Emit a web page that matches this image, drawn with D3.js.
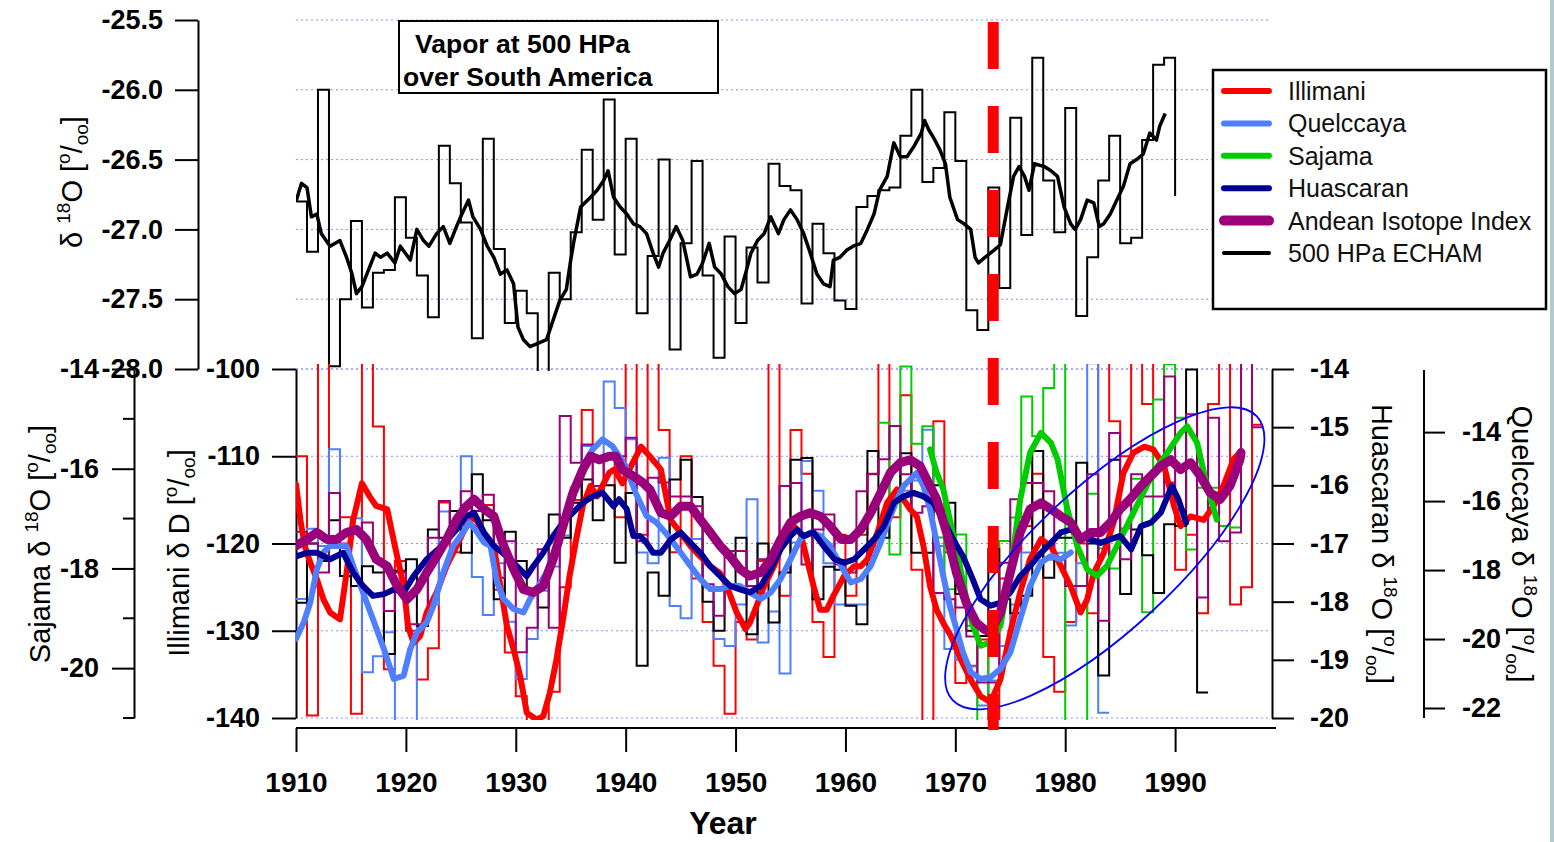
<!DOCTYPE html>
<html>
<head>
<meta charset="utf-8">
<script src="https://cdn.jsdelivr.net/npm/d3@7"></script>
<style>
body { margin: 0; background: #fff; }
svg { display: block; font-family: "Liberation Sans", Arial, sans-serif; }
</style>
</head>
<body>
<div id="chart"></div>
<script>
let width = 1554;
let height = 842;

// ---------- data ----------
let decades = [1910, 1920, 1930, 1940, 1950, 1960, 1970, 1980, 1990];
let topTicks = [-25.5, -26.0, -26.5, -27.0, -27.5, -28.0];
let illTicks = [-100, -110, -120, -130, -140];
let sajMajor = [-14, -16, -18, -20];
let sajMinor = [-15, -17, -19, -21];
let huaTicks = [-14, -15, -16, -17, -18, -19, -20];
let queTicks = [-14, -16, -18, -20, -22];
let markerYear = 1973.45;

let legendNames = ["Illimani", "Quelccaya", "Sajama", "Huascaran", "Andean Isotope Index", "500 HPa ECHAM"];

// ECHAM 500 hPa vapour d18O, annual values from 1910 (last value = end drop in 1990)
let echamStart = 1910;
let echamAnnual = [
  -26.80, -27.16, -26.00, -27.98, -27.50, -26.94, -27.56, -27.31, -27.29, -26.77,
  -27.06, -27.33, -27.63, -26.40, -26.67, -26.95, -27.78, -26.35, -27.14, -27.67,
  -27.44, -27.60, -28.10, -27.31, -27.50, -27.02, -26.43, -26.93, -26.07, -27.18,
  -26.35, -27.60, -27.19, -26.50, -27.86, -27.10, -26.51, -27.33, -27.92, -27.05,
  -27.67, -27.13, -27.38, -26.53, -26.69, -26.72, -27.53, -26.96, -27.17, -27.51,
  -27.57, -26.84, -26.76, -26.72, -26.70, -26.33, -26.00, -26.66, -26.56, -26.16,
  -26.51, -27.58, -27.72, -26.70, -27.42, -26.20, -27.04, -25.77, -26.65, -27.02,
  -26.13, -27.62, -27.20, -26.65, -26.33, -27.10, -27.06, -26.36, -25.82, -25.77,
  -26.76
];

// ECHAM running mean [year, d18O]
let echamSmooth = [
  [1910.0, -26.80], [1910.5, -26.67], [1911.0, -26.70], [1911.4, -26.91], [1911.9, -26.89],
  [1912.3, -27.03], [1913.1, -27.12], [1914.0, -27.08], [1914.6, -27.20], [1915.1, -27.32],
  [1915.5, -27.46], [1916.0, -27.41], [1916.6, -27.29], [1917.2, -27.17], [1917.7, -27.20],
  [1918.3, -27.17], [1919.0, -27.24], [1919.5, -27.12], [1920.4, -27.22], [1921.0, -27.00],
  [1921.6, -27.08], [1922.1, -27.12], [1922.8, -27.03], [1923.4, -26.98], [1924.0, -27.10],
  [1924.6, -26.98], [1925.1, -26.89], [1925.7, -26.79], [1926.1, -26.91], [1926.8, -27.00],
  [1927.4, -27.12], [1928.0, -27.20], [1928.6, -27.32], [1929.2, -27.29], [1929.8, -27.39],
  [1930.2, -27.70], [1930.7, -27.79], [1931.3, -27.84], [1931.9, -27.82], [1932.8, -27.79],
  [1933.4, -27.65], [1934.0, -27.51], [1934.6, -27.43], [1935.0, -27.22], [1935.3, -27.08],
  [1935.9, -26.84], [1936.8, -26.77], [1937.4, -26.72], [1938.0, -26.65], [1938.4, -26.58],
  [1938.9, -26.77], [1939.5, -26.84], [1940.1, -26.89], [1940.7, -26.96], [1941.3, -26.98],
  [1941.9, -27.03], [1942.5, -27.17], [1943.0, -27.27], [1943.4, -27.17], [1944.0, -27.08],
  [1944.6, -26.98], [1945.2, -27.08], [1945.9, -27.34], [1946.5, -27.32], [1947.0, -27.24],
  [1947.6, -27.10], [1948.1, -27.27], [1948.7, -27.32], [1949.3, -27.41], [1949.9, -27.46],
  [1950.5, -27.43], [1950.9, -27.32], [1951.4, -27.17], [1952.0, -27.08], [1952.6, -27.03],
  [1953.2, -26.91], [1953.9, -27.03], [1954.4, -26.93], [1955.0, -26.86], [1955.6, -26.93],
  [1956.2, -27.03], [1956.8, -27.17], [1957.4, -27.32], [1958.0, -27.39], [1958.6, -27.41],
  [1958.9, -27.22], [1959.5, -27.20], [1960.1, -27.15], [1960.7, -27.12], [1961.4, -27.10],
  [1962.0, -27.00], [1962.6, -26.89], [1963.1, -26.72], [1963.8, -26.62], [1964.4, -26.38],
  [1965.0, -26.48], [1965.6, -26.48], [1966.2, -26.41], [1966.9, -26.31], [1967.2, -26.22],
  [1967.6, -26.29], [1968.0, -26.34], [1968.6, -26.43], [1969.1, -26.53], [1969.5, -26.77],
  [1970.2, -26.93], [1970.8, -26.96], [1971.4, -27.00], [1971.8, -27.20], [1972.1, -27.24],
  [1972.7, -27.20], [1973.5, -27.15], [1974.1, -27.11], [1974.7, -26.86], [1975.3, -26.62],
  [1975.8, -26.55], [1976.3, -26.62], [1976.7, -26.72], [1977.2, -26.53], [1978.1, -26.55],
  [1978.7, -26.58], [1979.3, -26.62], [1979.9, -26.84], [1980.5, -26.96], [1980.9, -27.00],
  [1981.4, -26.93], [1982.0, -26.79], [1982.6, -26.81], [1983.1, -26.98], [1983.5, -26.96],
  [1984.1, -26.89], [1984.7, -26.79], [1985.3, -26.69], [1985.9, -26.53], [1986.5, -26.50],
  [1987.1, -26.46], [1987.7, -26.31], [1988.3, -26.36], [1988.6, -26.26], [1989.1, -26.17]
];

// Illimani dD, annual from 1910
let illStart = 1910;
let illAnnual = [
  -110, -139.7, -96, -120, -117, -139.5, -96, -106.6, -134.4, -122,
  -130, -135.6, -132, -115.3, -121, -116, -118, -115.6, -125.3, -132.5,
  -137.5, -141, -141, -137, -125, -115, -104.7, -113.4, -110, -117,
  -96, -119, -96, -107, -121, -110, -124, -129, -134, -139.5,
  -129, -131, -122, -96, -126, -107, -112, -129, -133, -119,
  -126, -119, -112, -96, -117, -103, -123, -141, -106, -121,
  -136, -134, -131, -141, -124, -121, -118, -112, -133, -137,
  -129, -120, -128, -96, -106, -110, -96, -104, -96, -113,
  -123, -119, -128, -104, -96, -127, -125, -106.4
];
let illSmooth = [
  [1910.0, -113.2], [1910.4, -117.3], [1910.8, -120.3], [1911.3, -122.2], [1911.9, -124.1],
  [1912.5, -126.4], [1913.1, -127.9], [1914.0, -128.7], [1914.6, -123.4], [1915.2, -117.3],
  [1916.0, -113.1], [1916.7, -114.6], [1917.3, -115.7], [1918.3, -116.1], [1919.0, -120.3],
  [1919.8, -124.9], [1920.2, -129.5], [1920.7, -131.4], [1921.3, -130.6], [1921.9, -127.9],
  [1922.8, -125.6], [1923.7, -122.6], [1924.6, -120.3], [1925.5, -118.0], [1926.2, -116.9],
  [1927.1, -118.8], [1928.0, -120.3], [1928.6, -124.9], [1929.2, -129.5], [1929.8, -132.1],
  [1930.4, -135.2], [1931.0, -139.4], [1931.9, -140.2], [1932.5, -139.8], [1933.1, -137.1],
  [1933.7, -133.3], [1934.3, -128.7], [1934.9, -123.7], [1935.5, -119.5], [1936.1, -115.7],
  [1936.8, -113.4], [1937.4, -114.6], [1938.0, -113.1], [1938.5, -111.9], [1939.0, -111.5],
  [1939.7, -113.1], [1940.5, -111.1], [1941.4, -108.9], [1942.2, -110.0], [1943.2, -111.5],
  [1944.1, -117.3], [1945.0, -118.8], [1945.9, -120.3], [1946.8, -121.5], [1947.7, -122.6],
  [1948.6, -123.4], [1949.2, -124.9], [1950.1, -127.9], [1950.9, -129.8], [1951.3, -129.1],
  [1951.9, -127.2], [1952.6, -124.9], [1953.5, -122.6], [1954.4, -119.5], [1955.3, -118.0],
  [1955.9, -118.8], [1956.5, -121.8], [1957.1, -124.9], [1957.7, -127.6], [1958.3, -127.6],
  [1958.9, -126.0], [1959.9, -123.7], [1960.8, -122.6], [1961.4, -122.6], [1962.0, -121.8],
  [1962.9, -118.8], [1963.8, -115.3], [1964.7, -113.8], [1965.3, -115.0], [1965.9, -116.1],
  [1966.5, -116.9], [1967.1, -120.3], [1967.7, -124.9], [1968.3, -127.6], [1968.9, -129.1],
  [1969.6, -130.6], [1970.5, -133.3], [1971.4, -135.6], [1972.3, -137.5], [1973.2, -138.2],
  [1974.1, -135.6], [1975.0, -130.2], [1975.9, -125.6], [1976.8, -121.8], [1977.8, -119.5],
  [1978.7, -120.3], [1979.6, -122.6], [1980.5, -124.9], [1981.4, -127.9], [1982.0, -126.4],
  [1982.6, -123.4], [1983.5, -121.1], [1984.4, -117.6], [1985.3, -111.9], [1986.2, -109.6],
  [1987.2, -108.9], [1988.0, -109.2], [1989.0, -111.1], [1989.9, -115.7], [1990.5, -118.0],
  [1991.4, -116.9], [1992.6, -117.3], [1993.5, -115.7], [1994.4, -113.4], [1995.3, -110.4],
  [1996.0, -109.4]
];

// Quelccaya d18O, annual from 1910
let queStart = 1910;
let queAnnual = [
  -18.84, -16.8, -17.3, -14.50, -17.0, -16.5, -20.96, -20.5, -19.8, -22.5,
  -22.5, -19.6, -19.0, -16.3, -16.8, -14.7, -18.2, -19.3, -17.8, -19.5,
  -21.16, -20.0, -18.6, -17.9, -17.0, -15.6, -14.4, -14.8, -12.53, -13.3,
  -14.21, -17.49, -17.8, -14.74, -19.04, -19.4, -17.1, -18.5, -20.0, -20.2,
  -19.0, -15.95, -20.1, -19.2, -21.0, -17.2, -14.84, -15.7, -17.8, -19.0,
  -19.0, -19.0, -17.3, -16.6, -16.0, -15.7, -15.4, -13.93, -17.3, -20.29,
  -20.6, -20.8, -21.93, -21.2, -20.2, -19.0, -17.49, -17.5, -17.7, -17.5,
  -19.61, -17.8, -12.0, -22.14
];
let queSmooth = [
  [1910.0, -19.99], [1910.7, -19.52], [1911.3, -18.94], [1911.9, -17.97], [1912.5, -17.49],
  [1913.1, -17.30], [1913.9, -17.30], [1914.6, -17.30], [1915.2, -17.88], [1916.1, -18.65],
  [1917.0, -19.42], [1918.0, -20.29], [1918.9, -21.16], [1919.8, -21.06], [1920.4, -20.29],
  [1921.0, -19.81], [1921.9, -19.52], [1922.5, -19.04], [1923.4, -18.07], [1924.3, -17.30],
  [1925.2, -16.91], [1925.8, -16.62], [1926.5, -16.91], [1927.1, -17.20], [1927.7, -17.30],
  [1928.3, -18.36], [1928.9, -18.84], [1929.8, -19.13], [1930.7, -19.23], [1931.3, -18.84],
  [1931.9, -18.55], [1932.8, -18.07], [1933.7, -17.30], [1934.6, -16.34], [1935.5, -15.56],
  [1936.1, -14.99], [1937.0, -14.50], [1937.9, -14.21], [1938.8, -14.41], [1939.4, -14.70],
  [1940.0, -14.99], [1940.9, -15.76], [1941.9, -16.43], [1942.8, -16.62], [1943.6, -16.91],
  [1944.1, -17.11], [1945.0, -17.49], [1945.9, -17.88], [1946.8, -18.26], [1947.7, -18.55],
  [1948.6, -18.55], [1949.5, -18.46], [1950.4, -18.46], [1951.3, -18.65], [1952.3, -18.84],
  [1953.2, -18.65], [1954.1, -18.26], [1955.0, -17.69], [1955.9, -17.11], [1956.8, -16.91],
  [1957.7, -17.01], [1958.6, -17.30], [1959.6, -17.88], [1960.5, -18.36], [1961.4, -18.26],
  [1962.3, -17.88], [1963.2, -17.20], [1964.1, -16.43], [1964.7, -15.95], [1965.3, -15.56],
  [1965.9, -15.37], [1966.5, -15.18], [1967.1, -15.56], [1967.7, -16.24], [1968.3, -17.20],
  [1968.9, -18.17], [1969.5, -19.04], [1970.1, -19.71], [1970.7, -20.39], [1971.4, -20.96],
  [1972.3, -21.16], [1973.2, -21.11], [1974.1, -20.87], [1975.0, -20.39], [1975.9, -19.42],
  [1976.8, -18.46], [1977.8, -17.78], [1978.7, -17.59], [1979.6, -17.69], [1980.5, -17.49]
];

// Huascaran d18O, annual from 1910
let huaStart = 1910;
let huaAnnual = [
  -18.02, -17.0, -17.3, -16.6, -17.56, -17.73, -17.39, -17.5, -18.90, -17.47,
  -17.27, -18.42, -16.76, -16.9, -16.44, -17.16, -15.81, -16.6, -17.96, -16.8,
  -17.3, -17.8, -18.1, -16.5, -16.9, -16.3, -15.9, -16.6, -16.0, -17.33,
  -16.13, -19.10, -17.5, -17.9, -15.9, -15.56, -16.2, -18.0, -18.5, -17.7,
  -16.9, -18.56, -17.0, -18.36, -17.5, -15.56, -15.53, -17.96, -17.4, -17.45,
  -18.07, -18.39, -15.41, -16.9, -16.2, -15.45, -17.16, -17.16, -16.0, -16.3,
  -17.87, -18.5, -18.59, -17.10, -17.96, -18.2, -17.90, -15.41, -17.59, -16.9,
  -16.9, -15.61, -17.0, -19.27, -15.56, -17.87, -16.76, -17.2, -17.85, -16.67,
  -16.7, -14.01, -19.56
];
let huaSmooth = [
  [1910.0, -17.22], [1911.0, -17.16], [1911.9, -17.16], [1913.1, -17.27], [1914.3, -17.16],
  [1915.2, -17.50], [1916.1, -17.73], [1917.0, -17.90], [1918.0, -17.87], [1918.9, -17.79],
  [1919.8, -17.84], [1920.7, -17.56], [1921.9, -17.27], [1923.3, -17.04], [1924.6, -16.76],
  [1925.5, -16.53], [1926.2, -16.47], [1927.1, -16.81], [1928.0, -17.04], [1929.2, -17.22],
  [1930.1, -17.39], [1931.0, -17.56], [1931.6, -17.39], [1932.5, -17.16], [1933.4, -16.87],
  [1934.3, -16.64], [1935.2, -16.47], [1936.1, -16.30], [1937.0, -16.19], [1937.9, -16.13],
  [1938.9, -16.36], [1939.4, -16.24], [1940.1, -16.41], [1940.7, -16.87], [1941.3, -16.87],
  [1941.9, -16.99], [1942.5, -17.16], [1943.2, -17.16], [1944.1, -16.93], [1945.0, -16.81],
  [1945.9, -16.99], [1946.8, -17.16], [1947.7, -17.39], [1948.6, -17.56], [1949.5, -17.73],
  [1950.4, -17.79], [1951.3, -17.84], [1952.3, -17.73], [1953.2, -17.44], [1954.1, -17.10],
  [1955.0, -16.87], [1955.6, -16.76], [1956.2, -16.87], [1957.1, -16.81], [1958.0, -17.04],
  [1959.0, -17.27], [1959.9, -17.33], [1960.8, -17.27], [1961.7, -17.10], [1962.6, -16.93],
  [1963.5, -16.70], [1964.4, -16.30], [1965.3, -16.19], [1966.2, -16.13], [1967.1, -16.19],
  [1968.0, -16.30], [1968.9, -16.59], [1969.8, -16.93], [1970.7, -17.22], [1971.6, -17.62],
  [1972.3, -17.96], [1973.2, -18.07], [1974.1, -18.02], [1975.0, -17.84], [1975.9, -17.56],
  [1976.8, -17.39], [1977.8, -17.16], [1978.7, -16.99], [1979.6, -16.81], [1980.5, -16.76],
  [1981.4, -16.87], [1982.3, -16.93], [1983.2, -16.99], [1984.1, -16.93], [1985.0, -16.87],
  [1986.0, -17.10], [1986.9, -16.70], [1987.8, -16.64], [1988.7, -16.47], [1989.7, -16.01],
  [1990.3, -16.24], [1991.0, -16.64]
];

// Sajama d18O, annual from 1963
let sajStart = 1963;
let sajAnnual = [
  -15.08, -17.72, -13.95, -15.5, -15.15, -17.38, -18.42, -17.32, -19.15, -21.2,
  -19.5, -17.45, -16.98, -14.55, -15.35, -14.38, -13.8, -21.3, -21.3, -16.5,
  -17.6, -18.0, -17.2, -16.2, -18.88, -14.61, -13.9, -14.98, -17.62, -16.38,
  -16.38, -17.15, -17.18
];
let sajSmooth = [
  [1967.7, -15.61], [1968.3, -16.08], [1968.9, -16.41], [1969.5, -17.02], [1970.3, -17.82],
  [1971.0, -18.62], [1971.6, -19.15], [1972.3, -19.55], [1973.2, -19.48], [1974.1, -19.15],
  [1975.0, -18.08], [1975.9, -16.62], [1976.8, -15.68], [1977.8, -15.28], [1978.7, -15.48],
  [1979.3, -15.81], [1980.2, -16.82], [1981.1, -17.55], [1982.0, -18.02], [1982.9, -18.15],
  [1983.8, -17.95], [1984.7, -17.55], [1985.6, -17.15], [1986.8, -16.62], [1988.0, -16.08],
  [1989.3, -15.68], [1990.5, -15.28], [1991.1, -15.15], [1992.0, -15.48], [1992.9, -16.35],
  [1993.8, -17.02]
];

// Andean Isotope Index (standardised), annual from 1910
let aiiStart = 1910;
let aiiAnnual = [
  0.2, 0.0, -0.5, 0.87, 0.0, 0.2, 0.36, -0.3, -1.16, -0.5,
  -1.39, -1.39, 0.1, 0.73, 0.36, 0.90, 0.56, 0.84, -0.59, 0.04,
  -1.87, -1.45, -0.1, -1.45, 2.19, 1.39, 1.70, 0.99, 1.50, 1.50,
  1.82, 0.04, 1.13, 1.05, 0.81, 0.81, 0.64, -0.7, -1.24, -0.13,
  -0.13, -0.73, -0.27, -0.27, 0.99, 1.04, -0.36, 0.24, 0.5, -0.36,
  -0.50, 0.90, 1.19, 1.45, 2.02, 1.19, 0.53, 0.64, -0.85, -0.96,
  -1.1, -1.6, -2.39, -2.39, -0.33, 0.76, 1.04, 1.04, 0.90, -0.27,
  -0.73, -0.73, 1.19, -1.33, 1.90, -0.27, 1.19, 0.81, 0.81, 2.87,
  0.59, 2.22, -0.93, 2.16, 0.04, 0.19, 3.2, 2.0
];
let aiiSmooth = [
  [1910.0, -0.04], [1911.0, 0.07], [1911.9, 0.19], [1912.8, 0.07], [1913.7, 0.07],
  [1914.6, 0.19], [1915.5, 0.24], [1916.4, 0.07], [1917.3, -0.27], [1918.3, -0.39],
  [1919.2, -0.73], [1920.1, -0.96], [1921.0, -0.79], [1921.9, -0.50], [1922.8, -0.22],
  [1923.7, 0.07], [1924.6, 0.41], [1925.5, 0.64], [1926.2, 0.76], [1927.1, 0.59],
  [1928.0, 0.47], [1928.9, -0.04], [1929.8, -0.44], [1930.7, -0.79], [1931.6, -0.84],
  [1932.5, -0.73], [1933.4, -0.27], [1934.3, 0.30], [1935.2, 0.87], [1936.1, 1.27],
  [1936.8, 1.50], [1937.6, 1.44], [1938.5, 1.50], [1939.1, 1.50], [1939.7, 1.27],
  [1940.7, 1.16], [1941.6, 1.04], [1942.2, 0.93], [1943.2, 0.53], [1944.1, 0.47],
  [1945.0, 0.64], [1945.9, 0.64], [1946.8, 0.41], [1947.7, 0.19], [1948.6, -0.04],
  [1949.5, -0.22], [1950.4, -0.44], [1951.3, -0.56], [1952.3, -0.50], [1953.2, -0.27],
  [1954.1, 0.07], [1955.0, 0.36], [1955.9, 0.47], [1956.8, 0.53], [1957.7, 0.47],
  [1958.6, 0.30], [1959.6, 0.07], [1960.5, 0.07], [1961.4, 0.24], [1962.3, 0.53],
  [1963.2, 0.87], [1964.1, 1.22], [1965.0, 1.39], [1965.9, 1.44], [1966.8, 1.33],
  [1967.4, 1.10], [1968.3, 0.76], [1969.2, 0.19], [1970.1, -0.50], [1971.0, -1.02],
  [1971.9, -1.36], [1972.6, -1.47], [1973.2, -1.53], [1974.1, -1.19], [1975.0, -0.50],
  [1975.9, 0.19], [1976.8, 0.59], [1977.8, 0.70], [1978.7, 0.59], [1979.6, 0.47],
  [1980.5, 0.36], [1981.4, 0.07], [1982.3, 0.19], [1983.2, 0.19], [1984.1, 0.36],
  [1985.0, 0.59], [1985.9, 0.76], [1986.9, 0.99], [1987.8, 1.16], [1988.7, 1.33],
  [1989.6, 1.44], [1990.5, 1.27], [1991.4, 1.39], [1992.3, 1.16], [1993.2, 0.87],
  [1994.1, 0.76], [1995.0, 0.99], [1995.9, 1.44], [1996.0, 1.56]
];

// annotation ellipse (centre in data units)
let ellipseCentre = {year: 1983.6, dD: -121.7};

// ---------- drawing ----------
let colors = {
  ill: "#ff0000",
  que: "#4d7fff",
  saj: "#00cc00",
  hua: "#000096",
  aii: "#99007a",
  echam: "#000000"
};

let svg = d3.select("#chart").append("svg")
    .attr("width", width)
    .attr("height", height);

let defs = svg.append("defs");
defs.append("clipPath").attr("id", "clipTop")
  .append("rect").attr("x", 296).attr("y", 18).attr("width", 985).attr("height", 353);
defs.append("clipPath").attr("id", "clipBot")
  .append("rect").attr("x", 296).attr("y", 364).attr("width", 985).attr("height", 356);

let x = d3.scaleLinear().domain([1910, 1999]).range([296, 1274]);
let yTop = d3.scaleLinear().domain([-28, -25.5]).range([369, 20]);
let yIll = d3.scaleLinear().domain([-140, -100]).range([718, 369]);
let ySaj = d3.scaleLinear().domain([-21, -14]).range([718, 369]);
let yHua = d3.scaleLinear().domain([-20, -14]).range([718, 369]);
let yQue = d3.scaleLinear().domain([-22.29, -12.17]).range([718, 369]);
let yAii = d3.scaleLinear().domain([-3, 3]).range([718, 369]);

function annualPoints(start, vals) {
    let pts = vals.map((v, i) => [start + i, v]);
    pts.push([start + vals.length, vals[vals.length - 1]]);
    return pts;
}

function stepLine(yScale) {
    return d3.line().x(d => x(d[0])).y(d => yScale(d[1])).curve(d3.curveStepAfter);
}
function smoothLine(yScale) {
    return d3.line().x(d => x(d[0])).y(d => yScale(d[1]));
}

// grid lines
let grid = svg.append("g").attr("stroke", "#8c8cff").attr("stroke-width", 1)
    .attr("stroke-dasharray", "2,3");
topTicks.forEach(t => {
    grid.append("line").attr("x1", 296).attr("x2", 1268)
        .attr("y1", yTop(t)).attr("y2", yTop(t));
});
illTicks.forEach(t => {
    grid.append("line").attr("x1", 296).attr("x2", 1270)
        .attr("y1", yIll(t)).attr("y2", yIll(t));
});

// ---- axes ----
function styleAxis(g, size) {
    g.select(".domain").attr("stroke", "#000").attr("stroke-width", 2);
    g.selectAll(".tick line").attr("stroke", "#000").attr("stroke-width", 2);
    g.selectAll(".tick text").attr("fill", "#000")
        .attr("font-size", size || 27).attr("font-weight", "bold")
        .attr("font-family", "'Liberation Sans', Arial, sans-serif");
}

let topAxis = svg.append("g").attr("transform", "translate(198,0)")
    .call(d3.axisLeft(yTop).tickValues(topTicks).tickSize(23).tickSizeOuter(0)
        .tickPadding(12).tickFormat(d => d.toFixed(1)));
styleAxis(topAxis);

let illAxis = svg.append("g").attr("transform", "translate(296,0)")
    .call(d3.axisLeft(yIll).tickValues(illTicks).tickSize(24).tickSizeOuter(0)
        .tickPadding(12).tickFormat(d => String(d)));
styleAxis(illAxis);

let sajAxis = svg.append("g").attr("transform", "translate(134,0)")
    .call(d3.axisLeft(ySaj).tickValues(sajMajor).tickSize(22).tickSizeOuter(0)
        .tickPadding(13).tickFormat(d => String(d)));
styleAxis(sajAxis);
sajAxis.selectAll(".minor").data(sajMinor).enter().append("line")
    .attr("x1", -11).attr("x2", 0)
    .attr("y1", d => ySaj(d)).attr("y2", d => ySaj(d))
    .attr("stroke", "#000").attr("stroke-width", 2);

let huaAxis = svg.append("g").attr("transform", "translate(1272,0)")
    .call(d3.axisRight(yHua).tickValues(huaTicks).tickSize(22).tickSizeOuter(0)
        .tickPadding(16).tickFormat(d => String(d)));
styleAxis(huaAxis);

let queAxis = svg.append("g").attr("transform", "translate(1424,0)")
    .call(d3.axisRight(yQue).tickValues(queTicks).tickSize(21).tickSizeOuter(0)
        .tickPadding(17).tickFormat(d => String(d)));
styleAxis(queAxis);
queAxis.select(".domain").attr("d", "M0," + 370 + "V" + 718);

let xAxis = svg.append("g").attr("transform", "translate(0,728)")
    .call(d3.axisBottom(x).tickValues(decades).tickSize(24).tickSizeOuter(0)
        .tickPadding(20).tickFormat(d => String(d)));
styleAxis(xAxis, 28);
xAxis.select(".domain").attr("d", "M296,0H1276");

svg.append("text").attr("x", 723).attr("y", 834).attr("text-anchor", "middle")
    .attr("font-size", 32).attr("font-weight", "bold").text("Year");

// ---- axis titles with super/subscripts ----
function isoTitle(cx, cy, angle, prefix, main) {
    let t = svg.append("text")
        .attr("transform", "translate(" + cx + "," + cy + ") rotate(" + angle + ")")
        .attr("text-anchor", "middle")
        .attr("font-size", 29).attr("fill", "#000");
    if (prefix) t.append("tspan").text(prefix + " ");
    t.append("tspan").text("δ ");
    if (main === "D") {
        t.append("tspan").text("D [");
    } else {
        t.append("tspan").attr("font-size", 19).attr("dy", -12).text("18");
        t.append("tspan").attr("dy", 12).text("O [");
    }
    t.append("tspan").attr("font-size", 19).attr("dy", -12).text("o");
    t.append("tspan").attr("dy", 12).text("/");
    t.append("tspan").attr("font-size", 19).attr("dy", 6).text("oo");
    t.append("tspan").attr("dy", -6).text("]");
}
isoTitle(82, 182, -90, "", "O");
isoTitle(50, 544, -90, "Sajama", "O");
isoTitle(189, 553, -90, "Illimani", "D");
isoTitle(1372, 544, 90, "Huascaran", "O");
isoTitle(1512, 544, 90, "Quelccaya", "O");

// ---- top panel ----
let topG = svg.append("g").attr("clip-path", "url(#clipTop)");
topG.append("path").datum(annualPoints(echamStart, echamAnnual).slice(0, echamAnnual.length))
    .attr("d", stepLine(yTop)).attr("fill", "none")
    .attr("stroke", colors.echam).attr("stroke-width", 2);
topG.append("path").datum(echamSmooth)
    .attr("d", smoothLine(yTop)).attr("fill", "none")
    .attr("stroke", colors.echam).attr("stroke-width", 3.5).attr("stroke-linejoin", "round");

// title box
svg.append("rect").attr("x", 399).attr("y", 21).attr("width", 319).attr("height", 72)
    .attr("fill", "#fff").attr("stroke", "#000").attr("stroke-width", 2);
svg.append("text").attr("x", 415).attr("y", 53).attr("font-size", 26.5)
    .attr("font-weight", "bold").text("Vapor at 500 HPa");
svg.append("text").attr("x", 403).attr("y", 86).attr("font-size", 26.5)
    .attr("font-weight", "bold").text("over South America");

// ---- bottom panel ----
let botG = svg.append("g").attr("clip-path", "url(#clipBot)");

let annualSeries = [
    {start: illStart, vals: illAnnual, y: yIll, color: colors.ill},
    {start: queStart, vals: queAnnual, y: yQue, color: colors.que},
    {start: sajStart, vals: sajAnnual, y: ySaj, color: colors.saj},
    {start: huaStart, vals: huaAnnual, y: yHua, color: "#000"},
    {start: aiiStart, vals: aiiAnnual, y: yAii, color: colors.aii}
];
annualSeries.forEach(s => {
    botG.append("path").datum(annualPoints(s.start, s.vals))
        .attr("d", stepLine(s.y)).attr("fill", "none")
        .attr("stroke", s.color).attr("stroke-width", 2);
});

let smoothSeries = [
    {data: illSmooth, y: yIll, color: colors.ill, w: 6},
    {data: queSmooth, y: yQue, color: colors.que, w: 6},
    {data: sajSmooth, y: ySaj, color: colors.saj, w: 6},
    {data: huaSmooth, y: yHua, color: colors.hua, w: 6},
    {data: aiiSmooth, y: yAii, color: colors.aii, w: 9}
];
smoothSeries.forEach(s => {
    botG.append("path").datum(s.data)
        .attr("d", smoothLine(s.y)).attr("fill", "none")
        .attr("stroke", s.color).attr("stroke-width", s.w)
        .attr("stroke-linejoin", "round").attr("stroke-linecap", "round");
});

// ellipse annotation
svg.append("ellipse")
    .attr("transform", "translate(" + x(ellipseCentre.year) + "," + yIll(ellipseCentre.dD) + ") rotate(-43)")
    .attr("rx", 208).attr("ry", 71)
    .attr("fill", "none").attr("stroke", "#0000ff").attr("stroke-width", 1.8);

// 1973 marker
svg.append("line")
    .attr("x1", x(markerYear)).attr("x2", x(markerYear))
    .attr("y1", 22).attr("y2", 730)
    .attr("stroke", "#ff0000").attr("stroke-width", 11)
    .attr("stroke-dasharray", "47,37");

// ---- legend ----
let legend = svg.append("g");
legend.append("rect").attr("x", 1213).attr("y", 70).attr("width", 333).attr("height", 239)
    .attr("fill", "#fff").attr("stroke", "#000").attr("stroke-width", 2.5);
let legendColors = [colors.ill, colors.que, colors.saj, colors.hua, colors.aii, colors.echam];
let legendWidths = [6, 6, 6, 6, 10, 4];
legendNames.forEach((name, i) => {
    let yy = 91 + i * 32.4;
    legend.append("line").attr("x1", 1224).attr("x2", 1269).attr("y1", yy).attr("y2", yy)
        .attr("stroke", legendColors[i]).attr("stroke-width", legendWidths[i])
        .attr("stroke-linecap", "round");
    legend.append("text").attr("x", 1288).attr("y", yy + 9)
        .attr("font-size", 25).attr("fill", "#111").text(name);
});

// right-hand frame strip
svg.append("rect").attr("x", 1550).attr("y", 0).attr("width", 4).attr("height", height)
    .attr("fill", "#b4c8cf");
</script>
</body>
</html>
